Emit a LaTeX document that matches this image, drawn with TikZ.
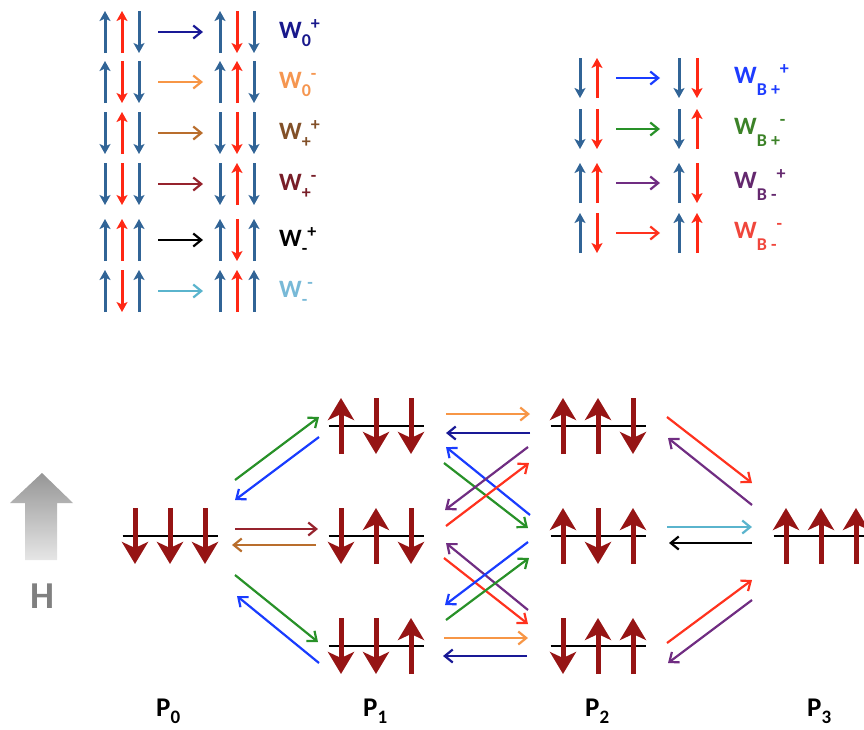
\documentclass[tikz,border=0pt]{standalone}
\usepackage{fontspec}
\setmainfont{Carlito}
\usetikzlibrary{arrows.meta}
\definecolor{spinblue}{RGB}{49,100,150}
\definecolor{spinred}{RGB}{255,40,20}
\definecolor{bspinred}{RGB}{150,20,20}
\definecolor{cnavy}{RGB}{25,25,150}
\definecolor{corange}{RGB}{247,150,70}
\definecolor{cbrown}{RGB}{185,110,45}
\definecolor{cmaroon}{RGB}{150,35,45}
\definecolor{ccyan}{RGB}{90,180,205}
\definecolor{cblue}{RGB}{25,60,255}
\definecolor{cgreen}{RGB}{40,145,40}
\definecolor{cpurple}{RGB}{112,45,130}
\definecolor{cred}{RGB}{255,50,30}
\definecolor{cblack}{RGB}{0,0,0}
\definecolor{tnavy}{RGB}{25,25,140}
\definecolor{torange}{RGB}{245,150,80}
\definecolor{tbrown}{RGB}{130,80,40}
\definecolor{tmaroon}{RGB}{120,30,40}
\definecolor{tcyan}{RGB}{120,185,215}
\definecolor{tblue}{RGB}{30,60,255}
\definecolor{tgreen}{RGB}{60,130,40}
\definecolor{tpurple}{RGB}{100,40,110}
\definecolor{tred}{RGB}{240,70,60}
\definecolor{tblack}{RGB}{0,0,0}
\tikzset{
  lspin/.style={line width=3pt,-{Stealth[length=10pt,width=11pt,inset=2.5pt]}},
  bspin/.style={line width=5pt,bspinred,-{Stealth[length=22pt,width=26pt,inset=6pt]}},
  trans/.style={line width=2.2pt,-{Straight Barb[length=8pt,width=13pt]}},
  lvl/.style={line width=2.5pt,black},
  wlab/.style={anchor=base west,font=\fontsize{25}{28}\selectfont\bfseries,inner sep=0pt},
  plab/.style={anchor=base west,font=\fontsize{27}{30}\selectfont\bfseries,inner sep=0pt},
}
\newcounter{tc}
\newcommand\Wl[3]{W\raisebox{-#1}{\fontsize{18}{18}\selectfont #2}\raisebox{8.5pt}{\fontsize{18}{18}\selectfont #3}}
\newcommand\tr[3]{\stepcounter{tc}\coordinate (s\thetc) at #2;\coordinate (t\thetc) at #3;\draw[trans,#1] (s\thetc) -- (t\thetc);}
\newcommand\ls[5]{\draw[lspin,#4] ({#1},{#2+#5*(#3)}) -- ({#1},{#2-#5*(#3)});}
\newcommand\lrow[9]{%
  \ls{105}{#1}{#2}{spinblue}{21}\ls{122}{#1}{#3}{spinred}{21}\ls{139}{#1}{#4}{spinblue}{21}
  \tr{c#8}{(158,#1)}{(203,#1)}
  \ls{220}{#1}{#5}{spinblue}{21}\ls{237}{#1}{#6}{spinred}{21}\ls{254}{#1}{#7}{spinblue}{21}
  \node[wlab,text=t#8] (lab\thetc) at (279,{#1+6}) {#9};}
\newcommand\rrow[7]{%
  \ls{580}{#1}{#2}{spinblue}{20}\ls{597}{#1}{#3}{spinred}{20}
  \tr{c#6}{(616,#1)}{(660,#1)}
  \ls{679}{#1}{#4}{spinblue}{20}\ls{697}{#1}{#5}{spinred}{20}
  \node[wlab,text=t#6] (lab\thetc) at (734,{#1+5}) {#7};}
\newcommand\state[6]{%
  \coordinate (#1) at (#2,#3);
  \draw[lvl] ({#2-47.5},#3) -- ({#2+47.5},#3);
  \draw[bspin] ({#2-35},{#3+28*(#4)}) -- ({#2-35},{#3-28*(#4)});
  \draw[bspin] ({#2},{#3+28*(#5)}) -- ({#2},{#3-28*(#5)});
  \draw[bspin] ({#2+35},{#3+28*(#6)}) -- ({#2+35},{#3-28*(#6)});}
\begin{document}
\begin{tikzpicture}[x=1pt,y=-1pt]
\useasboundingbox (0,0) rectangle (864,729);
\clip (0,0) rectangle (864,729);
% left legend
\lrow{32}{1}{1}{-1}{1}{-1}{-1}{navy}{\Wl{8pt}{0}{+}}
\lrow{82}{1}{-1}{-1}{1}{1}{-1}{orange}{\Wl{8pt}{0}{-}}
\lrow{133}{-1}{1}{-1}{-1}{-1}{-1}{brown}{\Wl{8pt}{+}{+}}
\lrow{184}{-1}{-1}{-1}{-1}{1}{-1}{maroon}{\Wl{8pt}{+}{-}}
\lrow{240}{1}{1}{1}{1}{-1}{1}{black}{\Wl{8pt}{-}{+}}
\lrow{291}{1}{-1}{1}{1}{1}{1}{cyan}{\Wl{8pt}{-}{-}}
% right legend
\rrow{78}{-1}{1}{-1}{-1}{blue}{\Wl{12pt}{B +}{+}}
\rrow{129}{-1}{-1}{-1}{1}{green}{\Wl{12pt}{B +}{-}}
\rrow{183}{1}{1}{1}{-1}{purple}{\Wl{12pt}{B -}{+}}
\rrow{233}{1}{-1}{1}{1}{red}{\Wl{12pt}{B -}{-}}
% H arrow
\shade[top color={rgb,255:red,150;green,150;blue,150},bottom color={rgb,255:red,230;green,230;blue,230}]
  (42,473) -- (73,503) -- (57,503) -- (57,560) -- (25,560) -- (25,503) -- (10,503) -- cycle;
\node[anchor=base west,font=\fontsize{38}{40}\selectfont\bfseries,text={rgb,255:red,128;green,128;blue,128},inner sep=0pt] (H) at (30,608) {H};
% states
\state{P0}{170}{536}{-1}{-1}{-1}
\state{P1a}{376}{426}{1}{-1}{-1}
\state{P1b}{376}{536}{-1}{1}{-1}
\state{P1c}{376}{646}{-1}{-1}{1}
\state{P2a}{598}{426}{1}{1}{-1}
\state{P2b}{598}{536}{1}{-1}{1}
\state{P2c}{598}{646}{-1}{1}{1}
\state{P3}{821}{536}{1}{1}{1}
% P0 - P1
\tr{cgreen}{(235,480)}{(319,417)}
\tr{cblue}{(319,437)}{(235,500)}
\tr{cmaroon}{(235,529)}{(318,529)}
\tr{cbrown}{(316,545)}{(232,545)}
\tr{cgreen}{(235,575)}{(318,642)}
\tr{cblue}{(319,663)}{(237,596)}
% P1 - P2
\tr{corange}{(446,414)}{(530,414)}
\tr{cnavy}{(530,433)}{(446,433)}
\tr{cblue}{(530,515)}{(446,447)}
\tr{cgreen}{(444,463)}{(528,528)}
\tr{cpurple}{(528,447)}{(445,510)}
\tr{cred}{(446,526)}{(529,463)}
\tr{cpurple}{(528,610)}{(446,543)}
\tr{cred}{(444,558)}{(528,624)}
\tr{cblue}{(528,542)}{(445,605)}
\tr{cgreen}{(446,620)}{(529,558)}
\tr{corange}{(444,638)}{(528,638)}
\tr{cnavy}{(527,656)}{(443,656)}
% P2 - P3
\tr{cred}{(667,417)}{(752,483)}
\tr{cpurple}{(752,505)}{(668,438)}
\tr{ccyan}{(667,527)}{(752,527)}
\tr{cblack}{(752,543)}{(669,543)}
\tr{cred}{(667,643)}{(752,580)}
\tr{cpurple}{(752,600)}{(668,663)}
% labels
\node[plab] (L0) at (156,716) {P\raisebox{-7pt}{\fontsize{19}{19}\selectfont 0}};
\node[plab] (L1) at (363,716) {P\raisebox{-7pt}{\fontsize{19}{19}\selectfont 1}};
\node[plab] (L2) at (585,716) {P\raisebox{-7pt}{\fontsize{19}{19}\selectfont 2}};
\node[plab] (L3) at (807,716) {P\raisebox{-7pt}{\fontsize{19}{19}\selectfont 3}};
\end{tikzpicture}
\end{document}
